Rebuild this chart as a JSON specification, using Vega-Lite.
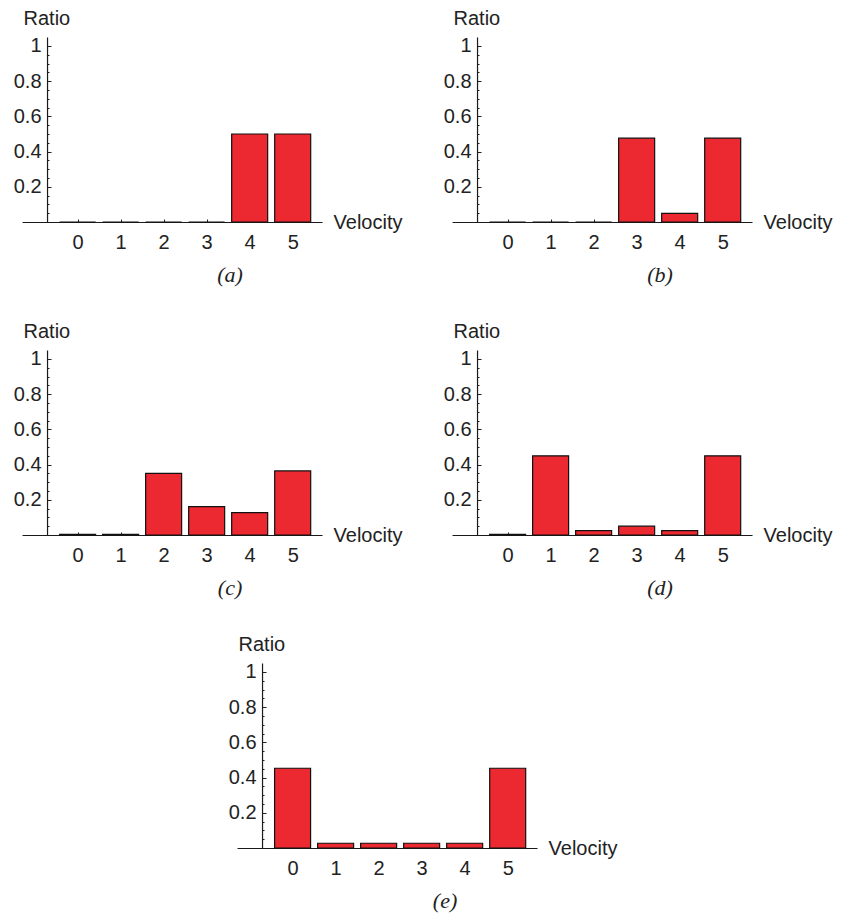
{
  "$schema": "https://vega.github.io/schema/vega-lite/v6.json",
  "padding": {"left": 13, "top": 8, "right": 5, "bottom": 5},
  "background": "white",
  "data": {"values": [
    {"panel": "a", "v": 0, "ratio": 0}, {"panel": "a", "v": 1, "ratio": 0}, {"panel": "a", "v": 2, "ratio": 0},
    {"panel": "a", "v": 3, "ratio": 0}, {"panel": "a", "v": 4, "ratio": 0.5}, {"panel": "a", "v": 5, "ratio": 0.5},
    {"panel": "b", "v": 0, "ratio": 0}, {"panel": "b", "v": 1, "ratio": 0}, {"panel": "b", "v": 2, "ratio": 0},
    {"panel": "b", "v": 3, "ratio": 0.476}, {"panel": "b", "v": 4, "ratio": 0.049}, {"panel": "b", "v": 5, "ratio": 0.476},
    {"panel": "c", "v": 0, "ratio": 0.003}, {"panel": "c", "v": 1, "ratio": 0.003}, {"panel": "c", "v": 2, "ratio": 0.35},
    {"panel": "c", "v": 3, "ratio": 0.161}, {"panel": "c", "v": 4, "ratio": 0.127}, {"panel": "c", "v": 5, "ratio": 0.364},
    {"panel": "d", "v": 0, "ratio": 0.003}, {"panel": "d", "v": 1, "ratio": 0.45}, {"panel": "d", "v": 2, "ratio": 0.025},
    {"panel": "d", "v": 3, "ratio": 0.05}, {"panel": "d", "v": 4, "ratio": 0.025}, {"panel": "d", "v": 5, "ratio": 0.45},
    {"panel": "e", "v": 0, "ratio": 0.453}, {"panel": "e", "v": 1, "ratio": 0.027}, {"panel": "e", "v": 2, "ratio": 0.027},
    {"panel": "e", "v": 3, "ratio": 0.027}, {"panel": "e", "v": 4, "ratio": 0.027}, {"panel": "e", "v": 5, "ratio": 0.453}
  ]},
  "bounds": "full",
  "spacing": 35,
  "center": true,
  "vconcat": [
    {
      "bounds": "flush",
      "spacing": 130,
      "hconcat": [
        {
          "width": 300, "height": 185,
          "title": {"text": "(a)"},
          "transform": [{"filter": "datum.panel === 'a'"}],
          "mark": {"type": "bar", "size": 36, "fill": "#EC2830", "stroke": "#111111", "strokeWidth": 1.2},
          "encoding": {
            "x": {"field": "v", "type": "quantitative", "scale": {"domain": [-1.175, 5.566], "nice": false, "zero": false},
              "axis": {"values": [0, 1, 2, 3, 4, 5], "format": "d", "tickSize": -3, "labelPadding": 13, "title": "Velocity", "titleX": 311, "titleY": 0, "titleAlign": "left", "titleBaseline": "middle"}},
            "y": {"field": "ratio", "type": "quantitative", "scale": {"domain": [0, 1.051], "nice": false},
              "axis": {"offset": -25, "values": [0.05, 0.1, 0.15, 0.2, 0.25, 0.3, 0.35, 0.4, 0.45, 0.5, 0.55, 0.6, 0.65, 0.7, 0.75, 0.8, 0.85, 0.9, 0.95, 1],
                "format": "~g", "labelExpr": "abs(datum.value*5 - round(datum.value*5)) < 0.001 ? datum.label : ''",
                "tickSize": {"condition": {"test": "abs(datum.value*5 - round(datum.value*5)) < 0.001", "value": -4}, "value": -2},
                "labelPadding": 10, "title": "Ratio", "titleAngle": 0, "titleAlign": "left", "titleBaseline": "alphabetic", "titleX": -24, "titleY": -13}}
          }
        },
        {
          "width": 300, "height": 185,
          "title": {"text": "(b)"},
          "transform": [{"filter": "datum.panel === 'b'"}],
          "mark": {"type": "bar", "size": 36, "fill": "#EC2830", "stroke": "#111111", "strokeWidth": 1.2},
          "encoding": {
            "x": {"field": "v", "type": "quantitative", "scale": {"domain": [-1.175, 5.566], "nice": false, "zero": false},
              "axis": {"values": [0, 1, 2, 3, 4, 5], "format": "d", "tickSize": -3, "labelPadding": 13, "title": "Velocity", "titleX": 311, "titleY": 0, "titleAlign": "left", "titleBaseline": "middle"}},
            "y": {"field": "ratio", "type": "quantitative", "scale": {"domain": [0, 1.051], "nice": false},
              "axis": {"offset": -25, "values": [0.05, 0.1, 0.15, 0.2, 0.25, 0.3, 0.35, 0.4, 0.45, 0.5, 0.55, 0.6, 0.65, 0.7, 0.75, 0.8, 0.85, 0.9, 0.95, 1],
                "format": "~g", "labelExpr": "abs(datum.value*5 - round(datum.value*5)) < 0.001 ? datum.label : ''",
                "tickSize": {"condition": {"test": "abs(datum.value*5 - round(datum.value*5)) < 0.001", "value": -4}, "value": -2},
                "labelPadding": 10, "title": "Ratio", "titleAngle": 0, "titleAlign": "left", "titleBaseline": "alphabetic", "titleX": -24, "titleY": -13}}
          }
        }
      ]
    },
    {
      "bounds": "flush",
      "spacing": 130,
      "hconcat": [
        {
          "width": 300, "height": 185,
          "title": {"text": "(c)"},
          "transform": [{"filter": "datum.panel === 'c'"}],
          "mark": {"type": "bar", "size": 36, "fill": "#EC2830", "stroke": "#111111", "strokeWidth": 1.2},
          "encoding": {
            "x": {"field": "v", "type": "quantitative", "scale": {"domain": [-1.175, 5.566], "nice": false, "zero": false},
              "axis": {"values": [0, 1, 2, 3, 4, 5], "format": "d", "tickSize": -3, "labelPadding": 13, "title": "Velocity", "titleX": 311, "titleY": 0, "titleAlign": "left", "titleBaseline": "middle"}},
            "y": {"field": "ratio", "type": "quantitative", "scale": {"domain": [0, 1.051], "nice": false},
              "axis": {"offset": -25, "values": [0.05, 0.1, 0.15, 0.2, 0.25, 0.3, 0.35, 0.4, 0.45, 0.5, 0.55, 0.6, 0.65, 0.7, 0.75, 0.8, 0.85, 0.9, 0.95, 1],
                "format": "~g", "labelExpr": "abs(datum.value*5 - round(datum.value*5)) < 0.001 ? datum.label : ''",
                "tickSize": {"condition": {"test": "abs(datum.value*5 - round(datum.value*5)) < 0.001", "value": -4}, "value": -2},
                "labelPadding": 10, "title": "Ratio", "titleAngle": 0, "titleAlign": "left", "titleBaseline": "alphabetic", "titleX": -24, "titleY": -13}}
          }
        },
        {
          "width": 300, "height": 185,
          "title": {"text": "(d)"},
          "transform": [{"filter": "datum.panel === 'd'"}],
          "mark": {"type": "bar", "size": 36, "fill": "#EC2830", "stroke": "#111111", "strokeWidth": 1.2},
          "encoding": {
            "x": {"field": "v", "type": "quantitative", "scale": {"domain": [-1.175, 5.566], "nice": false, "zero": false},
              "axis": {"values": [0, 1, 2, 3, 4, 5], "format": "d", "tickSize": -3, "labelPadding": 13, "title": "Velocity", "titleX": 311, "titleY": 0, "titleAlign": "left", "titleBaseline": "middle"}},
            "y": {"field": "ratio", "type": "quantitative", "scale": {"domain": [0, 1.051], "nice": false},
              "axis": {"offset": -25, "values": [0.05, 0.1, 0.15, 0.2, 0.25, 0.3, 0.35, 0.4, 0.45, 0.5, 0.55, 0.6, 0.65, 0.7, 0.75, 0.8, 0.85, 0.9, 0.95, 1],
                "format": "~g", "labelExpr": "abs(datum.value*5 - round(datum.value*5)) < 0.001 ? datum.label : ''",
                "tickSize": {"condition": {"test": "abs(datum.value*5 - round(datum.value*5)) < 0.001", "value": -4}, "value": -2},
                "labelPadding": 10, "title": "Ratio", "titleAngle": 0, "titleAlign": "left", "titleBaseline": "alphabetic", "titleX": -24, "titleY": -13}}
          }
        }
      ]
    },
    {
      "width": 300, "height": 185,
      "title": {"text": "(e)"},
      "transform": [{"filter": "datum.panel === 'e'"}],
      "mark": {"type": "bar", "size": 36, "fill": "#EC2830", "stroke": "#111111", "strokeWidth": 1.2},
      "encoding": {
        "x": {"field": "v", "type": "quantitative", "scale": {"domain": [-1.175, 5.566], "nice": false, "zero": false},
          "axis": {"values": [0, 1, 2, 3, 4, 5], "format": "d", "tickSize": -3, "labelPadding": 13, "title": "Velocity", "titleX": 311, "titleY": 0, "titleAlign": "left", "titleBaseline": "middle"}},
        "y": {"field": "ratio", "type": "quantitative", "scale": {"domain": [0, 1.051], "nice": false},
          "axis": {"offset": -25, "values": [0.05, 0.1, 0.15, 0.2, 0.25, 0.3, 0.35, 0.4, 0.45, 0.5, 0.55, 0.6, 0.65, 0.7, 0.75, 0.8, 0.85, 0.9, 0.95, 1],
            "format": "~g", "labelExpr": "abs(datum.value*5 - round(datum.value*5)) < 0.001 ? datum.label : ''",
            "tickSize": {"condition": {"test": "abs(datum.value*5 - round(datum.value*5)) < 0.001", "value": -4}, "value": -2},
            "labelPadding": 10, "title": "Ratio", "titleAngle": 0, "titleAlign": "left", "titleBaseline": "alphabetic", "titleX": -24, "titleY": -13}}
      }
    }
  ],
  "config": {
    "view": {"stroke": null},
    "axis": {"labelFont": "Liberation Sans", "labelFontSize": 20, "labelColor": "#222222", "titleFont": "Liberation Sans", "titleFontSize": 20, "titleFontWeight": "normal", "titleColor": "#222222", "domainColor": "#1a1a1a", "tickColor": "#222222", "domainWidth": 1.2, "tickWidth": 1, "grid": false},
    "title": {"orient": "bottom", "anchor": "middle", "dx": 58, "offset": 13, "font": "Liberation Serif", "fontStyle": "italic", "fontWeight": "normal", "fontSize": 22, "color": "#222222"}
  }
}
